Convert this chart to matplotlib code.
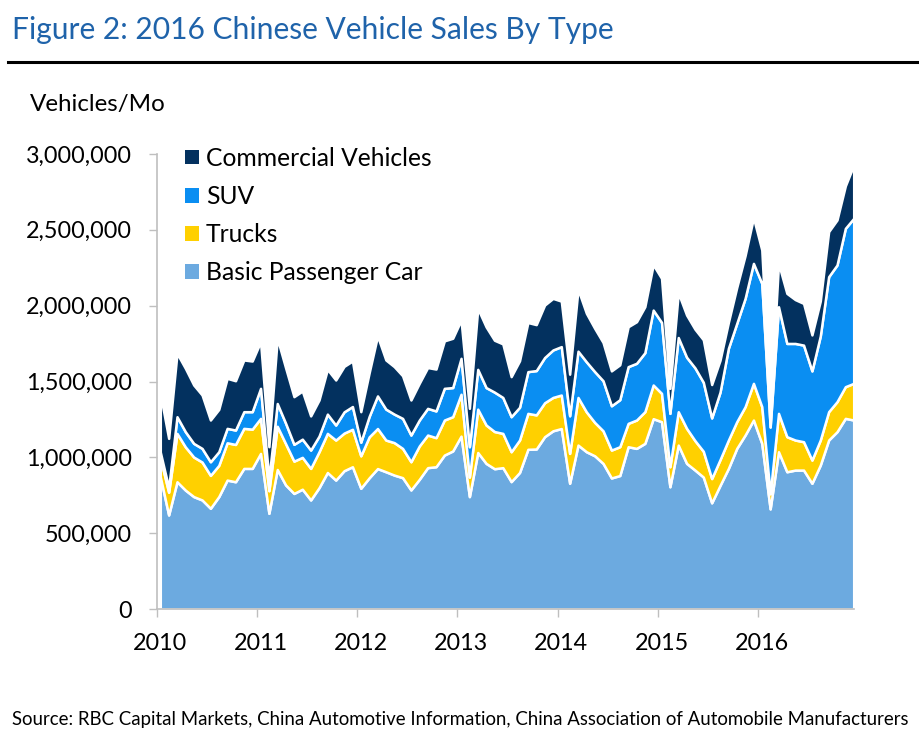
import numpy as np
import matplotlib
matplotlib.use("Agg")
import matplotlib.pyplot as plt
from matplotlib.patches import Patch
from matplotlib.lines import Line2D

plt.rcParams['font.family'] = ['Lato', 'DejaVu Sans']

# Monthly data Jan 2010 .. Dec 2016 (cumulative tops, thousands of vehicles)
years = [2010, 2011, 2012, 2013, 2014, 2015, 2016]
series_names = ["Basic Passenger Car", "Trucks", "SUV", "Commercial Vehicles"]

basic_top = [872, 620, 839, 784, 741, 719, 664, 741, 850, 839, 927, 927,
             1026, 631, 920, 818, 762, 790, 719, 800, 900, 850, 912, 938,
             796, 865, 926, 905, 883, 866, 785, 855, 932, 938, 1015, 1042,
             1140, 741, 1032, 960, 925, 932, 840, 900, 1053, 1055, 1136, 1175,
             1190, 829, 1081, 1037, 1010, 960, 864, 880, 1070, 1059, 1092, 1255,
             1235, 806, 1081, 960, 916, 870, 700, 815, 927, 1059, 1147, 1246,
             1092, 660, 1037, 905, 916, 916, 829, 949, 1114, 1169, 1257, 1246]
trucks_top = [995, 770, 1158, 1069, 1002, 969, 881, 947, 1096, 1085, 1191, 1186,
              1257, 780, 1205, 1090, 975, 1000, 927, 1037, 1158, 1114, 1160, 1185,
              1010, 1135, 1190, 1114, 1097, 1059, 971, 1075, 1147, 1130, 1246, 1268,
              1416, 870, 1318, 1213, 1170, 1158, 1037, 1114, 1290, 1280, 1360, 1395,
              1411, 1026, 1395, 1300, 1230, 1175, 1048, 1070, 1224, 1246, 1301, 1477,
              1422, 938, 1301, 1191, 1110, 1040, 860, 985, 1114, 1235, 1334, 1488,
              1334, 760, 1290, 1136, 1114, 1103, 982, 1114, 1301, 1367, 1466, 1488]
suv_top = [1035, 800, 1268, 1169, 1092, 1059, 971, 1037, 1191, 1180, 1301, 1301,
           1455, 860, 1355, 1225, 1086, 1120, 1048, 1140, 1285, 1213, 1300, 1335,
           1100, 1270, 1405, 1318, 1285, 1257, 1147, 1246, 1323, 1306, 1455, 1460,
           1653, 1070, 1580, 1460, 1430, 1395, 1268, 1330, 1565, 1572, 1658, 1708,
           1730, 1274, 1700, 1630, 1565, 1505, 1340, 1380, 1598, 1620, 1690, 1971,
           1890, 1290, 1790, 1660, 1590, 1495, 1260, 1430, 1719, 1883, 2048, 2279,
           2147, 1200, 1993, 1751, 1751, 1740, 1570, 1800, 2191, 2268, 2510, 2576]
total_top = [1420, 1125, 1686, 1587, 1477, 1411, 1246, 1316, 1521, 1505, 1642, 1635,
             1762, 1070, 1785, 1590, 1400, 1437, 1273, 1378, 1580, 1510, 1600, 1635,
             1301, 1557, 1800, 1642, 1598, 1538, 1378, 1488, 1592, 1582, 1768, 1785,
             1905, 1323, 1982, 1860, 1772, 1748, 1532, 1636, 1889, 1875, 2004, 2048,
             2030, 1548, 2108, 1950, 1850, 1757, 1570, 1610, 1861, 1894, 1993, 2270,
             2180, 1455, 2085, 1938, 1845, 1775, 1480, 1640, 1890, 2120, 2330, 2580,
             2367, 1300, 2279, 2081, 2040, 2015, 1807, 2030, 2488, 2565, 2790, 2927]

basic = np.array(basic_top) * 1000
trucks = (np.array(trucks_top) - np.array(basic_top)) * 1000
suv = (np.array(suv_top) - np.array(trucks_top)) * 1000
commercial = (np.array(total_top) - np.array(suv_top)) * 1000

colors = {"Basic Passenger Car": "#6CAAE0", "Trucks": "#FFD000",
          "SUV": "#0A8EF2", "Commercial Vehicles": "#03315F"}

months = np.arange(len(basic))

fig = plt.figure(figsize=(9.19, 7.38), dpi=100)
ax = fig.add_axes([156.7 / 919, 1 - 609 / 738, (853.7 - 156.7) / 919, (609 - 154) / 738])

ax.stackplot(months, basic, trucks, suv, commercial,
             colors=[colors[n] for n in series_names],
             edgecolor="white", linewidth=1.8)

FS = 16.8
ax.set_xlim(-0.43, 83)
ax.set_ylim(0, 3000000)
ax.set_yticks(np.arange(0, 3000001, 500000))
ax.set_yticklabels([f"{v:,}" for v in range(0, 3000001, 500000)], fontsize=FS)
ax.set_xticks([12 * k - 0.43 for k in range(len(years))])
ax.set_xticklabels([])
ax.set_xticks([12 * k for k in range(len(years))], minor=True)
ax.set_xticklabels([str(y) for y in years], minor=True, fontsize=FS)
ax.tick_params(axis="x", which="minor", length=0, pad=17)
ax.tick_params(axis="x", which="major", length=6, color="#BFBFBF", width=1)
ax.tick_params(axis="y", length=6, color="#BFBFBF", width=1, pad=12)

for s in ["top", "right"]:
    ax.spines[s].set_visible(False)
for s in ["left", "bottom"]:
    ax.spines[s].set_color("#BFBFBF")
    ax.spines[s].set_linewidth(1.2)

handles = [Patch(facecolor=colors[n], edgecolor="none") for n in reversed(series_names)]
leg = ax.legend(handles, list(reversed(series_names)), loc="upper left",
                bbox_to_anchor=(0.016, 1.054), frameon=False, fontsize=17.7,
                handlelength=0.55, handleheight=0.55, handletextpad=0.3,
                labelspacing=0.62, borderpad=0.2)

fig.text(12 / 919, 1 - 30 / 738, "Figure 2: 2016 Chinese Vehicle Sales By Type",
         color="#1F63AA", fontsize=21.6, va="center", ha="left")
fig.add_artist(Line2D([8 / 919, 1.0], [1 - 62 / 738, 1 - 62 / 738],
                      color="black", linewidth=2.2, transform=fig.transFigure))
fig.text(30 / 919, 1 - 105 / 738, "Vehicles/Mo", fontsize=17.4, va="center", ha="left")
fig.text(12 / 919, 1 - 720 / 738,
         "Source: RBC Capital Markets, China Automotive Information, China Association of Automobile Manufacturers",
         fontsize=13.4, va="center", ha="left")

fig.savefig("out.png", dpi=100)
